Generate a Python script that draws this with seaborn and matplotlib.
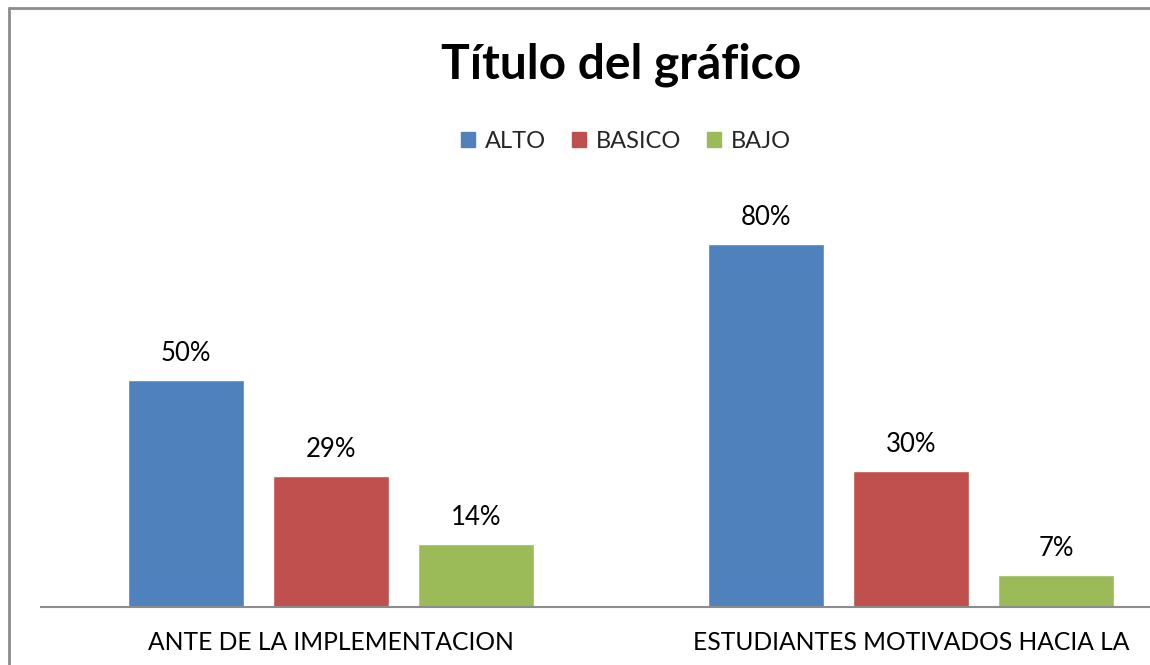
import matplotlib.pyplot as plt
import seaborn as sns
import pandas as pd
from matplotlib.lines import Line2D

# Data
categories = ['ANTE DE LA IMPLEMENTACION', 'ESTUDIANTES MOTIVADOS HACIA LA']
levels = ['ALTO', 'BASICO', 'BAJO']
alto = [50, 80]
basico = [29, 30]
bajo = [14, 7]
colors = ['#4F81BD', '#C0504D', '#9BBB59']

rows = []
for lvl, vals in zip(levels, [alto, basico, bajo]):
    for cat, v in zip(categories, vals):
        rows.append({'cat': cat, 'level': lvl, 'value': v})
df = pd.DataFrame(rows)

sns.set_theme(style="white")
plt.rcParams['font.family'] = ['Lato', 'DejaVu Sans']

fig = plt.figure(figsize=(11.5, 6.65), dpi=100)
ax = fig.add_axes([41 / 1150, 58 / 665, 1160 / 1150, 408 / 665])

sns.barplot(data=df, x='cat', y='value', hue='level', hue_order=levels,
            order=categories, palette=colors, width=0.75, gap=0.2,
            saturation=1, ax=ax, legend=False)

for cont in ax.containers:
    ax.bar_label(cont, fmt='%d%%', padding=10, fontsize=18.5, color='black')

ax.set_xlim(-0.5, 1.5)
ax.set_ylim(0, 90)
ax.set_xlabel('')
ax.set_ylabel('')
ax.set_yticks([])
ax.tick_params(axis='x', length=0, labelsize=17.7, pad=17, colors='black')
for s in ['left', 'top', 'right']:
    ax.spines[s].set_visible(False)
ax.spines['bottom'].set_color('#8C8C8C')
ax.spines['bottom'].set_linewidth(1.5)

handles = [plt.Rectangle((0, 0), 1, 1, color=c) for c in colors]
fig.legend(handles, levels, loc='center', bbox_to_anchor=(626 / 1150, 1 - 141 / 665),
           ncol=3, frameon=False, fontsize=17, handlelength=0.6, handleheight=0.6,
           handletextpad=0.4, columnspacing=1.1)

fig.text(621 / 1150, 1 - 65 / 665, 'Título del gráfico', ha='center', va='center',
         fontsize=34.5, fontweight='bold', color='black')

# chart frame (cropped: only left and top edges visible)
fig.add_artist(Line2D([9 / 1150, 9 / 1150], [0, 1 - 8 / 665], color='#8C8C8C', lw=2,
                      transform=fig.transFigure))
fig.add_artist(Line2D([9 / 1150, 1], [1 - 8 / 665, 1 - 8 / 665], color='#8C8C8C', lw=2,
                      transform=fig.transFigure))

fig.savefig('out.png', dpi=100)
